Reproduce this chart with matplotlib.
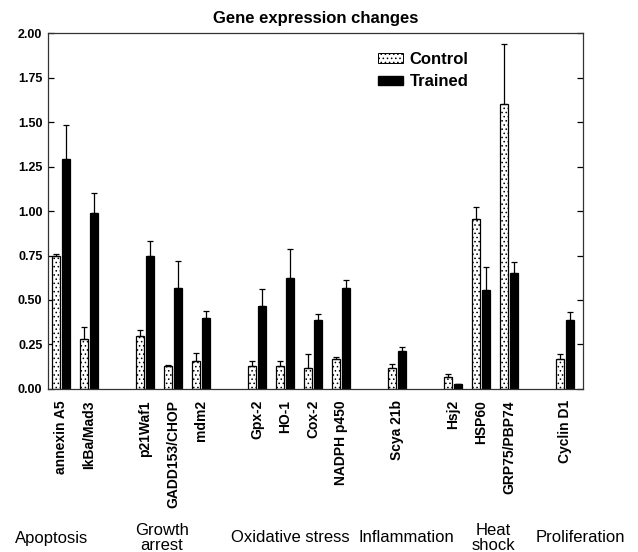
import numpy as np
import matplotlib
matplotlib.use("Agg")
from matplotlib import pyplot as plt
from matplotlib.patches import Patch
from matplotlib.transforms import blended_transform_factory

plt.rcParams['font.family'] = ['Liberation Sans', 'DejaVu Sans']
plt.rcParams['hatch.linewidth'] = 0.6

# genes and their slot on the x axis (gaps separate the groups)
genes = ["annexin A5", "IkBa/Mad3", "p21Waf1", "GADD153/CHOP", "mdm2",
         "Gpx-2", "HO-1", "Cox-2", "NADPH p450", "Scya 21b",
         "Hsj2", "HSP60", "GRP75/PBP74", "Cyclin D1"]
slots = [0, 1, 3, 4, 5, 7, 8, 9, 10, 12, 14, 15, 16, 18]

control = [0.75, 0.28, 0.30, 0.13, 0.16, 0.13, 0.13, 0.12, 0.17, 0.12,
           0.07, 0.955, 1.60, 0.17]
control_err = [0.01, 0.07, 0.03, 0.005, 0.04, 0.025, 0.03, 0.075, 0.007, 0.02,
               0.013, 0.065, 0.34, 0.028]
trained = [1.29, 0.99, 0.745, 0.565, 0.40, 0.465, 0.625, 0.39, 0.565, 0.215,
           0.028, 0.555, 0.65, 0.39]
trained_err = [0.195, 0.11, 0.085, 0.155, 0.04, 0.095, 0.16, 0.033, 0.046, 0.02,
               0.0, 0.13, 0.062, 0.045]

groups = ["Apoptosis", "Growth\narrest", "Oxidative stress", "Inflammation",
          "Heat\nshock", "Proliferation"]
group_x = [-0.32, 3.6, 8.18, 12.32, 15.43, 18.54]

x = np.array(slots, dtype=float)
w = 0.26

fig = plt.figure(figsize=(6.38, 5.52), dpi=100)
ax = fig.add_axes([0.0752, 0.2953, 0.8386, 0.6449])

ax.bar(x - 0.18, control, w, color='white', edgecolor='black', hatch='....',
       linewidth=0.9, label='Control', zorder=2)
ax.bar(x + 0.18, trained, w, color='black', edgecolor='black',
       linewidth=0.9, label='Trained', zorder=2)
ax.errorbar(x - 0.18, control, yerr=[np.zeros(len(control)), control_err],
            fmt='none', ecolor='black', elinewidth=0.9, capsize=2, capthick=0.9, zorder=3)
ax.errorbar(x + 0.18, trained, yerr=[np.zeros(len(trained)), trained_err],
            fmt='none', ecolor='black', elinewidth=0.9, capsize=2, capthick=0.9, zorder=3)

ax.set_xlim(-0.464, 18.64)
ax.set_ylim(0, 2.0)
ax.set_yticks(np.arange(0, 2.01, 0.25))
ax.set_yticklabels([f"{v:.2f}" for v in np.arange(0, 2.01, 0.25)],
                   fontsize=9, fontweight='bold')
ax.tick_params(axis='y', direction='in', length=4, width=0.9, left=True, right=True, pad=4)
ax.set_xticks(x)
ax.set_xticklabels(genes, rotation=90, fontsize=10, fontweight='bold', va='top')
ax.tick_params(axis='x', length=0, pad=8)
for s in ax.spines.values():
    s.set_linewidth(0.9)
    s.set_color('#333333')

ax.set_title("Gene expression changes", fontsize=12, fontweight='bold', pad=7)

handles = [Patch(facecolor='white', edgecolor='black', hatch='....', linewidth=0.7),
           Patch(facecolor='black', edgecolor='black')]
ax.legend(handles, ['Control', 'Trained'], loc='upper left',
          bbox_to_anchor=(0.617, 0.947), frameon=False, borderpad=0, borderaxespad=0,
          prop={'size': 12, 'weight': 'bold'}, handlelength=1.5, handleheight=0.5,
          handletextpad=0.4, labelspacing=0.45)

trans = blended_transform_factory(ax.transData, fig.transFigure)
for name, gx in zip(groups, group_x):
    ax.text(gx, 1 - 538 / 552, name, transform=trans, ha='center', va='center',
            fontsize=12, linespacing=0.95, clip_on=False)

fig.savefig("out.png", dpi=100)
